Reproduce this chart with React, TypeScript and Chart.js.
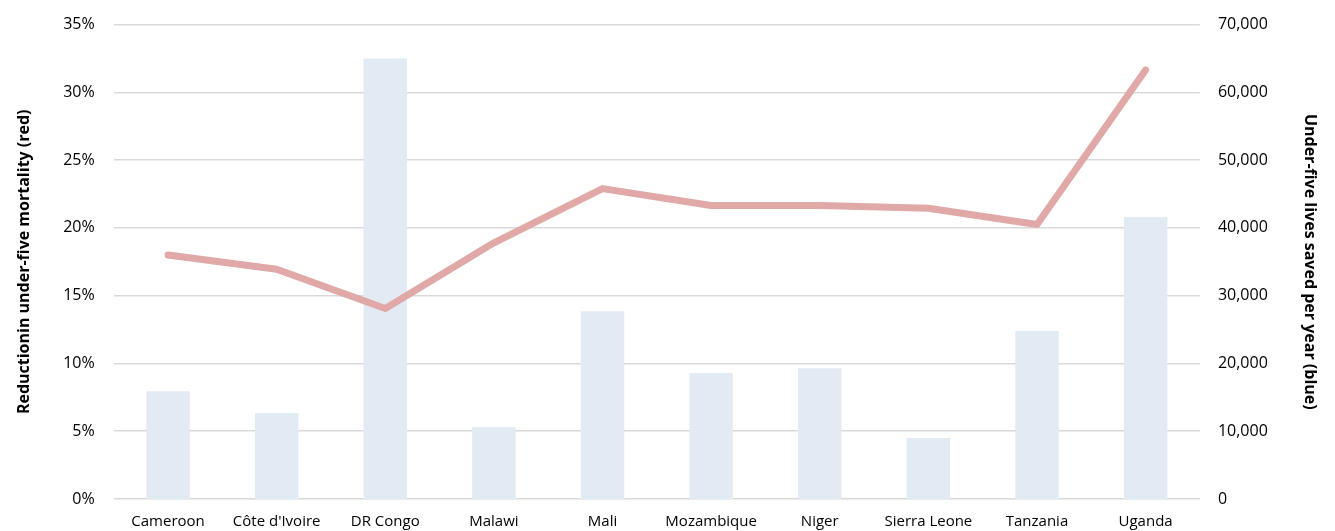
import React, { useEffect, useRef } from "react";
import { Chart, registerables } from "chart.js";

Chart.register(...registerables);

const categories = ["Cameroon", "Côte d'Ivoire", "DR Congo", "Malawi", "Mali", "Mozambique", "Niger", "Sierra Leone", "Tanzania", "Uganda"];
const livesSaved = [15900, 12700, 65000, 10600, 27700, 18600, 19300, 9000, 24800, 41600];
const reductionPct = [18.0, 16.95, 14.05, 18.9, 22.9, 21.65, 21.65, 21.45, 20.25, 31.65];

const FONT = "'Open Sans', 'Liberation Sans', sans-serif";

export default function App() {
  const ref = useRef<HTMLCanvasElement | null>(null);
  useEffect(() => {
    if (!ref.current) return;
    const chart = new Chart(ref.current, {
      type: "bar",
      data: {
        labels: categories,
        datasets: [
          {
            type: "line",
            label: "Reduction in under-five mortality",
            data: reductionPct,
            yAxisID: "y",
            borderColor: "#E0A8A6",
            backgroundColor: "#E0A8A6",
            borderWidth: 7,
            pointRadius: 0,
            tension: 0,
            borderCapStyle: "round",
            borderJoinStyle: "round",
            order: 0,
          } as any,
          {
            type: "bar",
            label: "Under-five lives saved per year",
            data: livesSaved,
            yAxisID: "y1",
            backgroundColor: "#E2EAF4",
            barPercentage: 0.4,
            categoryPercentage: 1,
            order: 1,
          },
        ],
      },
      options: {
        animation: false,
        responsive: true,
        maintainAspectRatio: false,
        layout: { padding: { top: 6, right: 3, left: 10, bottom: 0 } },
        plugins: { legend: { display: false }, tooltip: { enabled: false } },
        scales: {
          x: {
            grid: { display: false },
            border: { display: false },
            ticks: { color: "#000", font: { family: FONT, size: 15 }, padding: 6, maxRotation: 0, autoSkip: false },
          },
          y: {
            position: "left",
            min: 0,
            max: 35,
            grid: { color: "#D9D9D9", lineWidth: 1.5, drawTicks: false },
            border: { display: false },
            ticks: {
              stepSize: 5,
              color: "#000",
              padding: 19,
              font: { family: FONT, size: 16 },
              callback: (v: any) => v + "%",
            },
            title: {
              display: true,
              text: "Reductionin under-five mortality (red)",
              color: "#000",
              font: { family: FONT, size: 16, weight: "bold" },
              padding: { top: 5, bottom: 10 },
            },
          },
          y1: {
            position: "right",
            min: 0,
            max: 70000,
            grid: { display: false, drawTicks: false },
            border: { display: false },
            ticks: {
              stepSize: 10000,
              color: "#000",
              padding: 18,
              font: { family: FONT, size: 16 },
              callback: (v: any) => Number(v).toLocaleString("en-US"),
            },
            title: {
              display: true,
              text: "Under-five lives saved per year (blue)",
              color: "#000",
              font: { family: FONT, size: 16, weight: "bold" },
              padding: { top: 13, bottom: 14 },
            },
          },
        },
      },
    });
    return () => chart.destroy();
  }, []);
  return (
    <div style={{ position: "absolute", left: 0, top: -4, width: 1335, height: 541, background: "#fff" }}>
      <canvas ref={ref} />
    </div>
  );
}
